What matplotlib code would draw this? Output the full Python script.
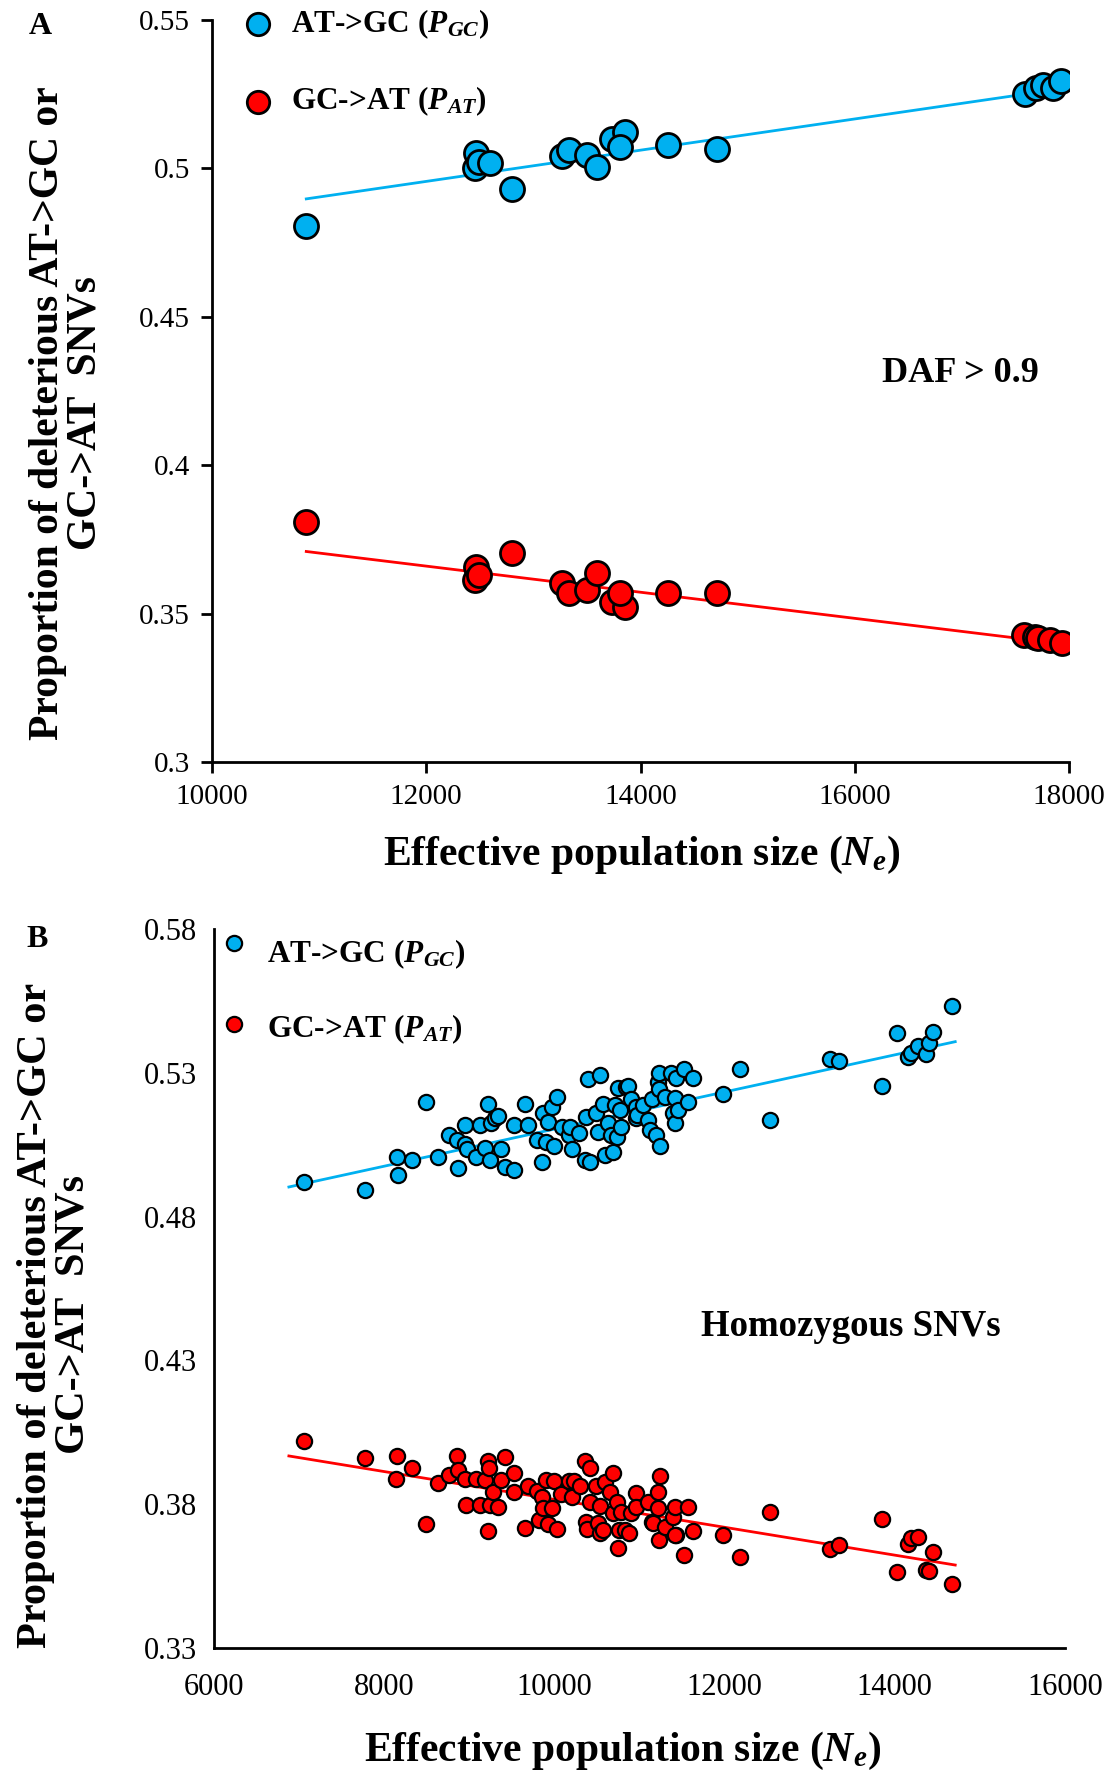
import numpy as np
import matplotlib
matplotlib.use("Agg")
import matplotlib.pyplot as plt

plt.rcParams['font.family'] = ['Liberation Serif', 'DejaVu Serif']
plt.rcParams['mathtext.fontset'] = 'custom'
plt.rcParams['mathtext.rm'] = 'Liberation Serif'
plt.rcParams['mathtext.it'] = 'Liberation Serif:italic'
plt.rcParams['mathtext.bf'] = 'Liberation Serif:bold'
plt.rcParams['mathtext.bfit'] = 'Liberation Serif:bold:italic'

BLUE = '#00B0F0'
RED = '#FF0000'

# ---- panel A data (DAF > 0.9) ----
ne_a = [10880, 12461, 12451, 12488, 12596, 12800, 13265, 13330, 13496, 13598,
        13732, 13856, 13812, 14258, 14718, 17590, 17696, 17760, 17854, 17928]
pgc_a = [0.4806, 0.5051, 0.5001, 0.5023, 0.5017, 0.4930, 0.5042, 0.5062, 0.5045, 0.5006,
         0.5098, 0.5124, 0.5073, 0.5079, 0.5064, 0.5252, 0.5271, 0.5282, 0.5271, 0.5294]
ne_a_red = [10880, 12461, 12451, 12488, 12800, 13265, 13330, 13496, 13598, 13732,
            13856, 13812, 14258, 14718, 17582, 17685, 17712, 17824, 17937]
pat_a = [0.3810, 0.3658, 0.3613, 0.3630, 0.3703, 0.3602, 0.3568, 0.3580, 0.3636, 0.3540,
         0.3523, 0.3568, 0.3568, 0.3570, 0.3428, 0.3422, 0.3417, 0.3411, 0.3400]

# ---- panel B data (homozygous SNVs) ----
ne_b_gc = [7059, 7769, 8151, 8160, 8322, 8489, 8633, 8759, 8857, 8862,
           8952, 8952, 8970, 9073, 9127, 9186, 9222, 9240, 9253, 9298,
           9343, 9375, 9424, 9523, 9523, 9649, 9694, 9793, 9851, 9869,
           9905, 9928, 9973, 9995, 10031, 10085, 10175, 10184, 10207, 10287,
           10355, 10369, 10391, 10414, 10490, 10512, 10535, 10566, 10593, 10625,
           10670, 10683, 10715, 10737, 10751, 10773, 10782, 10836, 10863, 10895,
           10953, 10962, 10976, 11043, 11097, 11129, 11151, 11196, 11218, 11232,
           11232, 11241, 11299, 11367, 11398, 11412, 11412, 11434, 11457, 11524,
           11569, 11623, 11983, 12176, 12536, 13239, 13348, 13853, 14029, 14159,
           14187, 14276, 14367, 14405, 14445, 14676]
pgc_b = [0.4919, 0.4893, 0.5006, 0.4945, 0.4997, 0.5198, 0.5006, 0.5084, 0.5066, 0.4968,
         0.5119, 0.5051, 0.5035, 0.5008, 0.5119, 0.5037, 0.5190, 0.4997, 0.5124, 0.5142,
         0.5151, 0.5035, 0.4971, 0.4962, 0.5119, 0.5190, 0.5119, 0.5066, 0.4989, 0.5161,
         0.5061, 0.5130, 0.5182, 0.5046, 0.5217, 0.5113, 0.5084, 0.5113, 0.5034, 0.5092,
         0.4997, 0.5148, 0.5278, 0.4989, 0.5161, 0.5095, 0.5292, 0.5192, 0.5014, 0.5124,
         0.5084, 0.5026, 0.5188, 0.5076, 0.5246, 0.5171, 0.5113, 0.5252, 0.5254, 0.5209,
         0.5182, 0.5142, 0.5153, 0.5188, 0.5136, 0.5101, 0.5209, 0.5084, 0.5269, 0.5298,
         0.5243, 0.5046, 0.5217, 0.5298, 0.5159, 0.5124, 0.5211, 0.5281, 0.5171, 0.5313,
         0.5200, 0.5283, 0.5226, 0.5313, 0.5136, 0.5348, 0.5342, 0.5254, 0.5437, 0.5354,
         0.5368, 0.5394, 0.5365, 0.5405, 0.5443, 0.5532]

ne_b_at = [7059, 7769, 8151, 8142, 8322, 8489, 8633, 8759, 8857, 8871,
           8952, 8961, 9073, 9127, 9186, 9222, 9231, 9222, 9240, 9276,
           9343, 9375, 9424, 9523, 9523, 9649, 9694, 9793, 9815, 9851,
           9869, 9896, 9928, 9973, 9995, 10031, 10072, 10175, 10207, 10234,
           10297, 10355, 10369, 10387, 10414, 10423, 10490, 10512, 10535, 10535,
           10566, 10593, 10656, 10683, 10692, 10737, 10751, 10760, 10782, 10827,
           10872, 10895, 10953, 10962, 11097, 11142, 11164, 11218, 11218, 11241,
           11232, 11299, 11389, 11412, 11434, 11412, 11524, 11569, 11623, 11983,
           12176, 12536, 13239, 13348, 13853, 14029, 14159, 14187, 14276, 14367,
           14405, 14445, 14676]
pat_b = [0.4020, 0.3959, 0.3968, 0.3888, 0.3927, 0.3730, 0.3873, 0.3902, 0.3968, 0.3919,
         0.3888, 0.3797, 0.3888, 0.3797, 0.3884, 0.3950, 0.3925, 0.3707, 0.3797, 0.3844,
         0.3791, 0.3884, 0.3963, 0.3910, 0.3844, 0.3718, 0.3863, 0.3846, 0.3745, 0.3826,
         0.3786, 0.3884, 0.3730, 0.3788, 0.3882, 0.3713, 0.3836, 0.3882, 0.3826, 0.3882,
         0.3863, 0.3950, 0.3739, 0.3713, 0.3927, 0.3809, 0.3863, 0.3733, 0.3794, 0.3699,
         0.3710, 0.3878, 0.3844, 0.3907, 0.3768, 0.3809, 0.3647, 0.3710, 0.3774, 0.3710,
         0.3699, 0.3768, 0.3838, 0.3791, 0.3809, 0.3739, 0.3733, 0.3786, 0.3844, 0.3899,
         0.3676, 0.3722, 0.3757, 0.3791, 0.3693, 0.3693, 0.3623, 0.3791, 0.3708, 0.3693,
         0.3615, 0.3772, 0.3643, 0.3658, 0.3747, 0.3563, 0.3661, 0.3681, 0.3685, 0.3571,
         0.3568, 0.3635, 0.3522]

# linear trend lines: (slope, intercept), x range
fit_a_gc = (5.26e-6, 0.4325)
fit_a_at = (-4.40e-6, 0.4188)
range_a = [10880, 17930]
fit_b_gc = (6.453e-6, 0.4459)
fit_b_at = (-4.844e-6, 0.4301)
range_b = [6880, 14710]

lbl_gc = r'AT->GC ($\mathbfit{P}_{\mathbfit{GC}}$)'
lbl_at = r'GC->AT ($\mathbfit{P}_{\mathbfit{AT}}$)'
xlab = r'Effective population size ($\mathbfit{N}_{\mathbfit{e}}$)'
ylab = 'Proportion of deleterious AT->GC or\nGC->AT  SNVs'

W, H = 1114, 1775
fig = plt.figure(figsize=(W / 100, H / 100), dpi=100)


def trend(ax, fit, xr, color):
    k, b = fit
    xs = np.array(xr, dtype=float)
    ax.plot(xs, k * xs + b, color=color, lw=2, zorder=2)


# ---------------- panel A ----------------
axA = fig.add_axes([212 / W, 1 - 762 / H, (1069 - 212) / W, (762 - 20) / H])
trend(axA, fit_a_gc, range_a, BLUE)
trend(axA, fit_a_at, range_a, RED)
axA.scatter(ne_a, pgc_a, s=300, c=BLUE, edgecolors='black', linewidths=2, zorder=3)
axA.scatter(ne_a_red, pat_a, s=300, c=RED, edgecolors='black', linewidths=2, zorder=3)
axA.set_xlim(10000, 18000)
axA.set_ylim(0.3, 0.55)
axA.set_xticks(np.arange(10000, 18001, 2000))
axA.set_yticks([0.3, 0.35, 0.4, 0.45, 0.5, 0.55])
axA.set_yticklabels(['0.3', '0.35', '0.4', '0.45', '0.5', '0.55'])
axA.tick_params(direction='out', length=8, width=2, labelsize=21, pad=8)
for s in ['top', 'right']:
    axA.spines[s].set_visible(False)
for s in ['left', 'bottom']:
    axA.spines[s].set_linewidth(2)

# legend A
axA.scatter([10430], [0.5485], s=260, c=BLUE, edgecolors='black', linewidths=2,
            clip_on=False, zorder=4)
axA.scatter([10430], [0.5225], s=260, c=RED, edgecolors='black', linewidths=2,
            clip_on=False, zorder=4)
axA.text(10740, 0.5485, lbl_gc, fontsize=22.5, fontweight='bold', va='center')
axA.text(10740, 0.5225, lbl_at, fontsize=22.5, fontweight='bold', va='center')
axA.text(16984, 0.4309, 'DAF > 0.9', fontsize=26, fontweight='bold', ha='center', va='center')

fig.text(642 / W, 1 - 855 / H, xlab, fontsize=30, fontweight='bold', ha='center', va='center')
fig.text(67 / W, 1 - 413 / H, ylab, fontsize=30, fontweight='bold', rotation=90,
         ha='center', va='center', multialignment='center', linespacing=1.0)
fig.text(40 / W, 1 - 26 / H, 'A', fontsize=23, fontweight='bold', ha='center', va='center')

# ---------------- panel B ----------------
axB = fig.add_axes([214 / W, 1 - 1648 / H, (1065 - 214) / W, (1648 - 929) / H])
trend(axB, fit_b_gc, range_b, BLUE)
trend(axB, fit_b_at, range_b, RED)
axB.scatter(ne_b_gc, pgc_b, s=120, c=BLUE, edgecolors='black', linewidths=1.6, zorder=3)
axB.scatter(ne_b_at, pat_b, s=120, c=RED, edgecolors='black', linewidths=1.6, zorder=3)
axB.set_xlim(6000, 16000)
axB.set_ylim(0.33, 0.58)
axB.set_xticks(np.arange(6000, 16001, 2000))
axB.set_yticks([0.33, 0.38, 0.43, 0.48, 0.53, 0.58])
axB.set_yticklabels(['0.33', '0.38', '0.43', '0.48', '0.53', '0.58'])
axB.tick_params(length=0, labelsize=22)
axB.tick_params(axis='x', pad=18)
axB.tick_params(axis='y', pad=12)
for s in ['top', 'right']:
    axB.spines[s].set_visible(False)
for s in ['left', 'bottom']:
    axB.spines[s].set_linewidth(2)

axB.scatter([6240], [0.5751], s=120, c=BLUE, edgecolors='black', linewidths=1.6,
            clip_on=False, zorder=4)
axB.scatter([6240], [0.5468], s=120, c=RED, edgecolors='black', linewidths=1.6,
            clip_on=False, zorder=4)
axB.text(6620, 0.5713, lbl_gc, fontsize=22.5, fontweight='bold', va='center')
axB.text(6620, 0.5452, lbl_at, fontsize=22.5, fontweight='bold', va='center')
axB.text(13485, 0.4417, 'Homozygous SNVs', fontsize=26.5, fontweight='bold',
         ha='center', va='center')

fig.text(623 / W, 1 - 1751 / H, xlab, fontsize=30, fontweight='bold', ha='center', va='center')
fig.text(55 / W, 1 - 1315 / H, ylab, fontsize=30.5, fontweight='bold', rotation=90,
         ha='center', va='center', multialignment='center', linespacing=1.0)
fig.text(37 / W, 1 - 940 / H, 'B', fontsize=23, fontweight='bold', ha='center', va='center')

fig.savefig('out.png', dpi=100)
